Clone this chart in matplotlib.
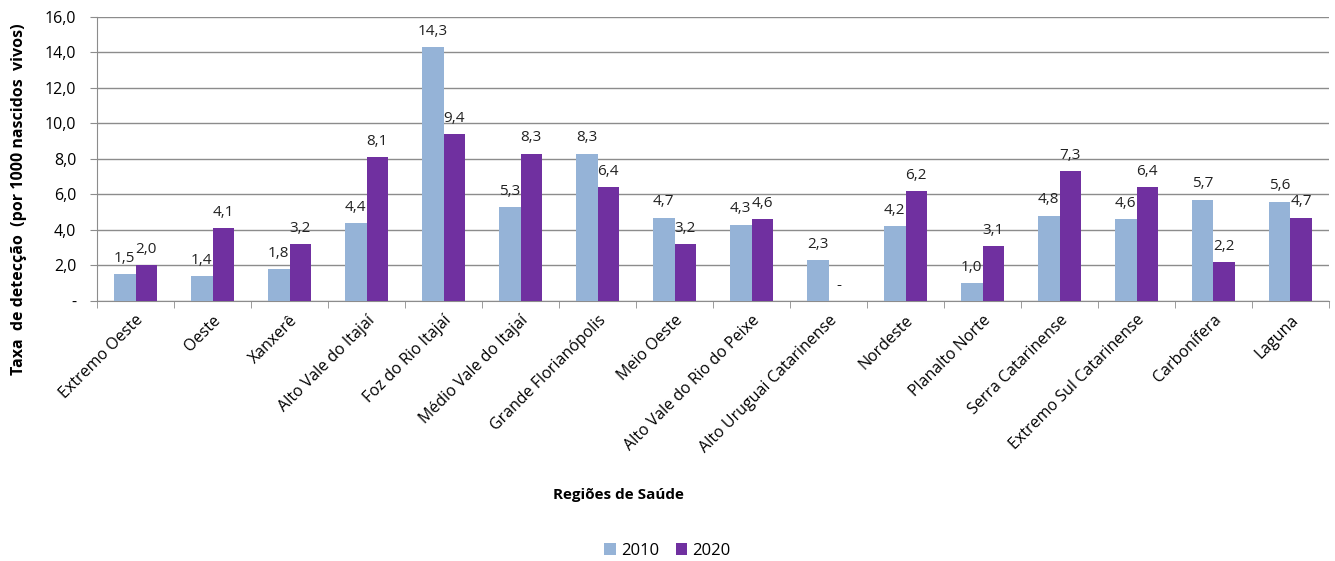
import matplotlib
matplotlib.use("Agg")
import matplotlib.pyplot as plt
import numpy as np
from matplotlib.ticker import FixedLocator

categories = ["Extremo Oeste", "Oeste", "Xanxerê", "Alto Vale do Itajaí", "Foz do Rio Itajaí",
              "Médio Vale do Itajaí", "Grande Florianópolis", "Meio Oeste", "Alto Vale do Rio do Peixe",
              "Alto Uruguai Catarinense", "Nordeste", "Planalto Norte", "Serra Catarinense",
              "Extremo Sul Catarinense", "Carbonífera", "Laguna"]
v2010 = [1.5, 1.4, 1.8, 4.4, 14.3, 5.3, 8.3, 4.7, 4.3, 2.3, 4.2, 1.0, 4.8, 4.6, 5.7, 5.6]
v2020 = [2.0, 4.1, 3.2, 8.1, 9.4, 8.3, 6.4, 3.2, 4.6, 0.0, 6.2, 3.1, 7.3, 6.4, 2.2, 4.7]
yticks = [0, 2, 4, 6, 8, 10, 12, 14, 16]
ytick_labels = ["-", "2,0", "4,0", "6,0", "8,0", "10,0", "12,0", "14,0", "16,0"]

plt.rcParams['font.family'] = ['Open Sans', 'DejaVu Sans']

fig = plt.figure(figsize=(13.35, 5.61), dpi=100)
ax = fig.add_axes([0.0727, 0.4635, 0.9228, 0.5062])

x = np.arange(len(categories))
w = 0.28
c1 = "#95B3D7"
c2 = "#7030A0"
b1 = ax.bar(x - w / 2, v2010, w, color=c1, label="2010", zorder=3)
b2 = ax.bar(x + w / 2, v2020, w, color=c2, label="2020", zorder=3)

def fmt(v):
    return "-" if v == 0 else f"{v:.1f}".replace(".", ",")

for xi, v in zip(x - w / 2, v2010):
    ax.annotate(fmt(v), (xi, v), xytext=(0, 6), textcoords="offset points",
                ha="center", va="bottom", fontsize=11, color="#222222")
for xi, v in zip(x + w / 2, v2020):
    ax.annotate(fmt(v), (xi, v), xytext=(0, 6), textcoords="offset points",
                ha="center", va="bottom", fontsize=11, color="#222222")

ax.set_xlim(-0.5, len(categories) - 0.5)
ax.set_ylim(0, 16)
ax.set_yticks(yticks)
ax.set_yticklabels(ytick_labels, fontsize=11.5)
ax.yaxis.grid(True, color="#8c8c8c", linewidth=1, zorder=0)
ax.set_axisbelow(True)

ax.set_xticks(x)
ax.set_xticklabels(categories, rotation=45, ha="right", rotation_mode="anchor", fontsize=11.5)
ax.tick_params(axis="x", length=0, pad=8)
ax.xaxis.set_minor_locator(FixedLocator(np.arange(-0.5, len(categories), 1.0)))
ax.tick_params(axis="x", which="minor", length=5, color="#8c8c8c")
ax.tick_params(axis="y", length=5, color="#8c8c8c", pad=10)

for s in ["top", "right"]:
    ax.spines[s].set_visible(False)
for s in ["left", "bottom"]:
    ax.spines[s].set_color("#8c8c8c")

ax.set_ylabel("Taxa  de detecção  (por 1000 nascidos  vivos)", fontsize=11.5, fontweight="bold")
ax.yaxis.set_label_coords(-0.057, 0.36)
fig.text(0.4635, 0.117, "Regiões de Saúde", ha="center", va="center", fontsize=11, fontweight="bold")

fig.legend(handles=[b1, b2], labels=["2010", "2020"], loc="center", bbox_to_anchor=(0.5, 0.018),
           ncol=2, frameon=False, fontsize=12, handlelength=0.7, handleheight=0.7,
           handletextpad=0.3, columnspacing=1.0)

fig.savefig("out.png", dpi=100)
